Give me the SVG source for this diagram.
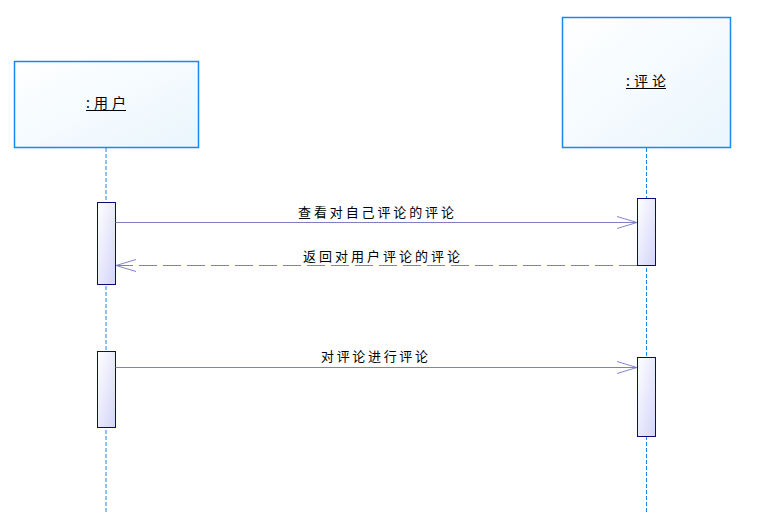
<svg xmlns="http://www.w3.org/2000/svg" width="761" height="514" viewBox="0 0 761 514">
<defs>
<linearGradient id="gBox" x1="0" y1="0" x2="1" y2="1">
<stop offset="0" stop-color="#ffffff"/>
<stop offset="1" stop-color="#eaf6fd"/>
</linearGradient>
<linearGradient id="gAct" x1="0" y1="0" x2="1" y2="1">
<stop offset="0" stop-color="#ffffff"/>
<stop offset="1" stop-color="#d4d4fa"/>
</linearGradient>
<marker id="open" markerWidth="22" markerHeight="14" refX="21" refY="7" orient="auto" markerUnits="userSpaceOnUse">
<path d="M1,1 L21,7 L1,13" fill="none" stroke="#8585c8" stroke-width="1"/>
</marker>
</defs>
<style>
.box{fill:url(#gBox);stroke:#1a88f0;stroke-width:1.5}
.life{stroke:#1a88f0;stroke-width:1;stroke-dasharray:4 2;fill:none}
.act{fill:url(#gAct);stroke:#0a0a78;stroke-width:1}
.msg{stroke:#8080c0;stroke-width:1;fill:none}
.ret{stroke:#8080c0;stroke-width:1;fill:none;stroke-dasharray:18 6}
.t{font-family:"Noto Sans CJK SC","Noto Sans",sans-serif;font-size:13px;fill:#000}
.lbl{font-family:"Noto Sans CJK SC","Noto Sans",sans-serif;font-size:14px;fill:#000}
.ul{stroke:#000;stroke-width:1}
</style>
<g id="lifelines">
<line class="life" x1="106" y1="148" x2="106" y2="514"/>
<line class="life" x1="646.5" y1="148" x2="646.5" y2="514"/>
</g>
<g id="user">
<rect class="box" x="14.5" y="61.5" width="184" height="86"/>
<text class="lbl" x="86" y="108" textLength="40" lengthAdjust="spacing">:用户</text>
<line class="ul" x1="86" y1="110.5" x2="126" y2="110.5"/>
</g>
<g id="comment">
<rect class="box" x="562.5" y="17.5" width="168" height="130"/>
<text class="lbl" x="626" y="86" textLength="40" lengthAdjust="spacing">:评论</text>
<line class="ul" x1="626" y1="88.5" x2="666" y2="88.5"/>
</g>
<g id="activations">
<rect class="act" x="97.5" y="202.5" width="18" height="82"/>
<rect class="act" x="637.5" y="198.5" width="18" height="67"/>
<rect class="act" x="97.5" y="351.5" width="18" height="76"/>
<rect class="act" x="637.5" y="357.5" width="18" height="79"/>
</g>
<g id="connectors">
<line class="msg" x1="115.5" y1="222.5" x2="637" y2="222.5" marker-end="url(#open)"/>
<line class="ret" x1="637" y1="265.5" x2="116" y2="265.5" marker-end="url(#open)"/>
<line class="msg" x1="115.5" y1="367.5" x2="637" y2="367.5" marker-end="url(#open)"/>
</g>
<g id="labels">
<text class="t" x="298" y="217" textLength="156" lengthAdjust="spacing">查看对自己评论的评论</text>
<text class="t" x="303" y="261" textLength="157" lengthAdjust="spacing">返回对用户评论的评论</text>
<text class="t" x="321" y="361" textLength="107" lengthAdjust="spacing">对评论进行评论</text>
</g>
</svg>
